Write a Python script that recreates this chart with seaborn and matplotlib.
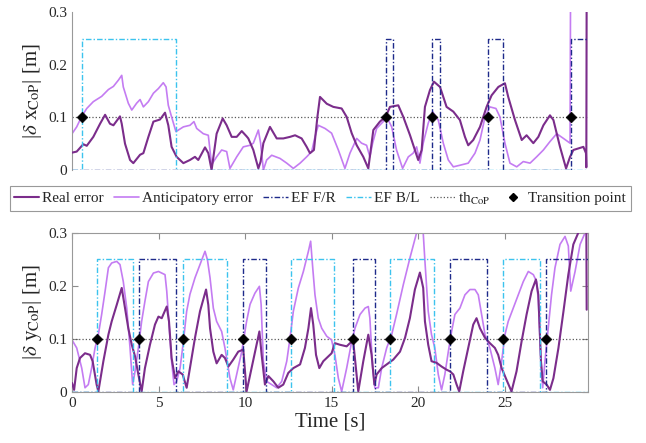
import numpy as np
import matplotlib
matplotlib.use("Agg")
import matplotlib.pyplot as plt
from matplotlib.lines import Line2D
import seaborn as sns

# --- data: (time [s], error [m]) ---
x_real = [(0.0, 0.033), (0.27, 0.035), (0.65, 0.049), (0.85, 0.046), (1.23, 0.063), (1.62, 0.088),
          (1.91, 0.105), (2.19, 0.088), (2.39, 0.085), (2.77, 0.102), (2.87, 0.088), (3.06, 0.050),
          (3.35, 0.019), (3.54, 0.013), (3.93, 0.029), (4.12, 0.032), (4.41, 0.063), (4.70, 0.092),
          (5.08, 0.096), (5.37, 0.109), (5.56, 0.085), (5.75, 0.044), (6.04, 0.025), (6.43, 0.013),
          (6.81, 0.019), (7.10, 0.025), (7.29, 0.019), (7.68, 0.043), (7.87, 0.032), (8.06, 0.0),
          (8.35, 0.069), (8.70, 0.098), (8.93, 0.085), (9.22, 0.063), (9.51, 0.063), (9.80, 0.074),
          (10.08, 0.064), (10.18, 0.060), (10.47, 0.038), (10.76, 0.003), (10.89, 0.016), (11.05, 0.051),
          (11.43, 0.082), (11.82, 0.060), (12.20, 0.060), (12.59, 0.063), (12.88, 0.066), (13.26, 0.060),
          (13.55, 0.044), (13.74, 0.032), (13.97, 0.038), (14.17, 0.101), (14.32, 0.139), (14.71, 0.126),
          (15.09, 0.120), (15.57, 0.117), (15.86, 0.101), (16.15, 0.070), (16.44, 0.047), (16.82, 0.025),
          (17.11, 0.003), (17.40, 0.076), (17.78, 0.092), (18.11, 0.101), (18.36, 0.120), (18.84, 0.123),
          (19.13, 0.101), (19.52, 0.066), (19.80, 0.038), (19.99, 0.019), (20.19, 0.038), (20.38, 0.120),
          (20.67, 0.152), (20.90, 0.168), (21.25, 0.158), (21.63, 0.120), (22.02, 0.111), (22.40, 0.095),
          (22.69, 0.063), (22.88, 0.047), (23.17, 0.057), (23.56, 0.082), (23.94, 0.120), (24.23, 0.142),
          (24.62, 0.158), (25.00, 0.165), (25.19, 0.139), (25.58, 0.095), (25.97, 0.057), (26.25, 0.066),
          (26.64, 0.051), (26.93, 0.063), (27.22, 0.085), (27.60, 0.104), (27.80, 0.095), (28.18, 0.044),
          (28.53, 0.003), (28.76, 0.025), (28.95, 0.038), (29.24, 0.041), (29.53, 0.044), (29.68, 0.032),
          (29.70, 0.005), (29.72, 0.35)]

x_antic = [(0.0, 0.069), (0.27, 0.082), (0.56, 0.102), (0.85, 0.117), (1.23, 0.130), (1.71, 0.140),
           (2.10, 0.153), (2.39, 0.159), (2.68, 0.171), (2.87, 0.180), (2.96, 0.158), (3.25, 0.127),
           (3.45, 0.114), (3.73, 0.127), (3.93, 0.134), (4.12, 0.120), (4.41, 0.130), (4.70, 0.146),
           (4.99, 0.155), (5.27, 0.166), (5.43, 0.158), (5.56, 0.123), (5.75, 0.101), (6.00, 0.073),
           (6.43, 0.082), (6.81, 0.085), (7.04, 0.092), (7.20, 0.079), (7.58, 0.069), (7.87, 0.066),
           (8.06, 0.010), (8.35, 0.025), (8.64, 0.038), (8.93, 0.035), (9.12, 0.003), (9.51, 0.025),
           (9.89, 0.044), (10.28, 0.047), (10.47, 0.051), (10.76, 0.076), (10.89, 0.051), (11.05, 0.0),
           (11.24, 0.019), (11.53, 0.028), (12.01, 0.022), (12.40, 0.013), (12.78, 0.003), (13.17, 0.013),
           (13.55, 0.025), (13.84, 0.035), (14.03, 0.063), (14.22, 0.085), (14.61, 0.079), (14.99, 0.070),
           (15.38, 0.038), (15.76, 0.003), (16.05, 0.032), (16.44, 0.060), (16.72, 0.051), (17.01, 0.047),
           (17.20, 0.025), (17.36, 0.051), (17.59, 0.079), (17.97, 0.092), (18.17, 0.101), (18.46, 0.082),
           (18.74, 0.038), (19.09, 0.003), (19.42, 0.025), (19.70, 0.032), (19.90, 0.044), (20.09, 0.013),
           (20.28, 0.051), (20.57, 0.089), (20.82, 0.111), (21.15, 0.095), (21.44, 0.051), (21.73, 0.019),
           (22.02, 0.006), (22.40, 0.009), (22.88, 0.013), (23.27, 0.032), (23.56, 0.057), (23.85, 0.101),
           (24.13, 0.120), (24.48, 0.117), (24.71, 0.101), (25.00, 0.051), (25.29, 0.013), (25.68, 0.006),
           (26.06, 0.016), (26.45, 0.013), (26.83, 0.025), (27.22, 0.038), (27.60, 0.054), (27.99, 0.069),
           (28.38, 0.060), (28.76, 0.051), (28.79, 0.35)]

y_real = [(0.0, 0.017), (0.12, 0.004), (0.27, 0.045), (0.46, 0.064), (0.75, 0.073), (1.04, 0.070),
          (1.19, 0.058), (1.42, 0.014), (1.52, 0.001), (1.81, 0.058), (2.10, 0.108), (2.29, 0.133),
          (2.58, 0.164), (2.87, 0.196), (3.06, 0.158), (3.25, 0.120), (3.45, 0.089), (3.64, 0.067),
          (3.83, 0.033), (4.02, 0.001), (4.21, 0.045), (4.50, 0.089), (4.79, 0.127), (4.99, 0.142),
          (5.18, 0.139), (5.47, 0.161), (5.60, 0.133), (5.75, 0.064), (5.95, 0.026), (6.14, 0.039),
          (6.39, 0.033), (6.62, 0.008), (6.81, 0.045), (7.10, 0.102), (7.39, 0.152), (7.74, 0.193),
          (7.87, 0.164), (7.97, 0.120), (8.16, 0.076), (8.35, 0.054), (8.64, 0.070), (8.83, 0.064),
          (9.03, 0.048), (9.31, 0.061), (9.60, 0.076), (9.89, 0.080), (10.08, 0.001), (10.37, 0.045),
          (10.66, 0.089), (10.82, 0.114), (10.95, 0.070), (11.14, 0.014), (11.34, 0.030), (11.63, 0.020),
          (11.91, 0.008), (12.20, 0.014), (12.49, 0.036), (12.78, 0.045), (13.17, 0.052), (13.45, 0.083),
          (13.65, 0.120), (13.80, 0.158), (13.93, 0.127), (14.09, 0.070), (14.28, 0.045), (14.51, 0.058),
          (14.70, 0.064), (14.99, 0.073), (15.18, 0.092), (15.47, 0.089), (15.86, 0.086), (16.05, 0.092),
          (16.24, 0.095), (16.53, 0.001), (16.82, 0.058), (17.11, 0.108), (17.30, 0.070), (17.46, 0.014),
          (17.59, 0.033), (17.88, 0.045), (18.17, 0.052), (18.55, 0.061), (18.94, 0.076), (19.23, 0.102),
          (19.51, 0.139), (19.80, 0.193), (20.09, 0.225), (20.28, 0.196), (20.38, 0.133), (20.57, 0.089),
          (20.76, 0.058), (21.05, 0.055), (21.34, 0.048), (21.63, 0.042), (21.82, 0.039), (22.02, 0.033),
          (22.21, 0.014), (22.36, 0.001), (22.59, 0.039), (22.88, 0.083), (23.17, 0.127), (23.36, 0.139),
          (23.56, 0.120), (23.85, 0.102), (24.13, 0.092), (24.42, 0.083), (24.61, 0.070), (24.81, 0.045),
          (25.09, 0.023), (25.38, 0.001), (25.67, 0.039), (25.96, 0.095), (26.25, 0.146), (26.54, 0.190),
          (26.79, 0.212), (26.93, 0.183), (27.08, 0.058), (27.18, 0.020), (27.41, 0.014), (27.60, 0.004),
          (27.80, 0.026), (28.09, 0.083), (28.38, 0.152), (28.66, 0.221), (28.95, 0.278), (29.24, 0.300),
          (29.50, 0.32), (29.70, 0.32), (29.72, 0.155)]

y_antic = [(0.0, 0.098), (0.27, 0.083), (0.56, 0.045), (0.75, 0.008), (0.94, 0.014), (1.13, 0.045),
           (1.33, 0.083), (1.52, 0.108), (1.71, 0.146), (1.91, 0.190), (2.10, 0.234), (2.29, 0.243),
           (2.58, 0.246), (2.77, 0.240), (2.96, 0.208), (3.16, 0.158), (3.35, 0.083), (3.50, 0.014),
           (3.64, 0.039), (3.83, 0.083), (4.02, 0.133), (4.21, 0.171), (4.41, 0.208), (4.70, 0.224),
           (4.99, 0.227), (5.37, 0.221), (5.47, 0.190), (5.62, 0.120), (5.75, 0.058), (5.89, 0.014),
           (6.04, 0.020), (6.24, 0.045), (6.43, 0.095), (6.62, 0.152), (6.81, 0.184), (7.10, 0.215),
           (7.39, 0.240), (7.68, 0.265), (7.82, 0.249), (7.97, 0.215), (8.16, 0.158), (8.35, 0.133),
           (8.64, 0.114), (8.83, 0.083), (9.12, 0.026), (9.31, 0.004), (9.51, 0.033), (9.80, 0.076),
           (10.08, 0.133), (10.28, 0.165), (10.56, 0.186), (10.82, 0.199), (10.92, 0.165), (11.05, 0.058),
           (11.24, 0.020), (11.53, 0.014), (11.82, 0.008), (12.11, 0.020), (12.40, 0.058), (12.59, 0.102),
           (12.78, 0.152), (13.07, 0.196), (13.36, 0.227), (13.65, 0.265), (13.78, 0.284), (13.90, 0.234),
           (14.03, 0.183), (14.22, 0.139), (14.42, 0.120), (14.71, 0.105), (14.99, 0.098), (15.18, 0.070),
           (15.38, 0.026), (15.57, 0.001), (15.86, 0.045), (16.15, 0.095), (16.34, 0.120), (16.63, 0.146),
           (16.92, 0.158), (17.11, 0.161), (17.20, 0.139), (17.36, 0.045), (17.49, 0.008), (17.69, 0.008),
           (17.88, 0.045), (18.17, 0.083), (18.46, 0.108), (18.74, 0.146), (19.13, 0.202), (19.51, 0.252),
           (19.90, 0.300), (20.09, 0.32), (20.28, 0.30), (20.38, 0.246), (20.57, 0.152), (20.76, 0.108),
           (20.95, 0.083), (21.15, 0.033), (21.34, 0.004), (21.53, 0.033), (21.73, 0.076), (21.92, 0.114),
           (22.11, 0.146), (22.40, 0.158), (22.69, 0.183), (22.98, 0.193), (23.27, 0.193), (23.46, 0.183),
           (23.65, 0.146), (23.85, 0.108), (24.13, 0.083), (24.42, 0.045), (24.61, 0.014), (24.81, 0.058),
           (25.00, 0.108), (25.19, 0.133), (25.48, 0.158), (25.77, 0.183), (26.06, 0.208), (26.35, 0.227),
           (26.64, 0.221), (26.83, 0.208), (26.93, 0.171), (27.06, 0.070), (27.18, 0.008), (27.31, 0.058),
           (27.50, 0.120), (27.69, 0.183), (27.89, 0.234), (28.18, 0.278), (28.47, 0.293), (28.66, 0.275),
           (28.80, 0.190), (29.05, 0.227), (29.34, 0.278), (29.63, 0.300), (29.77, 0.32)]

# active windows of the error flags (start, end) [s]
x_ef_fr = [(18.11, 18.55), (20.80, 21.25), (24.00, 24.87), (28.79, 30.0)]
x_ef_bl = [(0.56, 5.99)]
y_ef_fr = [(3.89, 6.00), (9.89, 11.18), (16.20, 17.49), (21.82, 23.98), (27.37, 30.0)]
y_ef_bl = [(1.43, 3.54), (6.39, 8.93), (12.63, 15.13), (18.36, 20.92), (24.90, 27.02)]

x_transitions = [0.56, 18.11, 20.80, 24.00, 28.79]
y_transitions = [1.43, 3.89, 6.39, 9.89, 12.63, 16.20, 18.36, 21.82, 24.90, 27.37]

ef_level = 0.25
th_cop = 0.1
t_max = 29.77

c_real = '#7B2D8B'
c_antic = '#C47CF2'
c_fr = '#1E2A8A'
c_bl = '#3CC3EE'


def ef_signal(windows):
    ts, vs = [0.0], [0.0]
    for s, e in windows:
        ts += [s, s, e, e]
        vs += [0.0, ef_level, ef_level, 0.0]
    ts.append(30.0)
    vs.append(0.0)
    return ts, vs


sns.set_style('white')
plt.rcParams['font.family'] = ['Liberation Serif', 'DejaVu Serif']
plt.rcParams['mathtext.fontset'] = 'stix'

fig = plt.figure(figsize=(6.46, 4.43), dpi=100)
ax1 = fig.add_axes([0.1115, 0.6163, 0.798, 0.356])
ax2 = fig.add_axes([0.1115, 0.1151, 0.798, 0.3596])

panels = [
    (ax1, x_real, x_antic, x_ef_fr, x_ef_bl, x_transitions, r'|$\delta$ x$_{\mathrm{CoP}}$| [m]'),
    (ax2, y_real, y_antic, y_ef_fr, y_ef_bl, y_transitions, r'|$\delta$ y$_{\mathrm{CoP}}$| [m]'),
]
dashdot = (0, (4, 1.5, 1, 1.5))

for ax, real, antic, ef_fr, ef_bl, trans, ylab in panels:
    ax.axhline(th_cop, color='0.35', ls=':', lw=0.9, zorder=1)
    t, v = np.array(real).T
    sns.lineplot(x=t, y=v, ax=ax, color=c_real, lw=1.5, sort=False, estimator=None, zorder=3)
    t, v = np.array(antic).T
    sns.lineplot(x=t, y=v, ax=ax, color=c_antic, lw=1.2, sort=False, estimator=None, zorder=2)
    ts, vs = ef_signal(ef_fr)
    ax.plot(ts, vs, color=c_fr, lw=1.0, ls=dashdot, zorder=4)
    ts, vs = ef_signal(ef_bl)
    ax.plot(ts, vs, color=c_bl, lw=1.0, ls=dashdot, zorder=4)
    sns.scatterplot(x=trans, y=[th_cop] * len(trans), ax=ax, marker='D', color='black',
                    s=30, edgecolor='black', zorder=6)
    ax.set_xlim(0, t_max)
    ax.set_ylim(0, 0.3)
    ax.set_yticks([0, 0.1, 0.2, 0.3])
    ax.set_yticklabels(['0', '0.1', '0.2', '0.3'])
    ax.set_ylabel(ylab, fontsize=15, labelpad=3)
    ax.tick_params(direction='in', length=4, color='0.55', labelsize=11, labelcolor='0.15')
    for sp in ax.spines.values():
        sp.set_color('0.6')
        sp.set_linewidth(0.8)

# top panel: only the left axis line
for side in ['top', 'right', 'bottom']:
    ax1.spines[side].set_visible(False)
ax1.set_xticks([])

ax2.set_xticks([0, 5, 10, 15, 20, 25])
ax2.tick_params(top=True, right=True, bottom=True, left=True)
ax2.set_xlabel('Time [s]', fontsize=15, labelpad=2)

handles = [
    Line2D([], [], color=c_real, lw=1.5),
    Line2D([], [], color=c_antic, lw=1.2),
    Line2D([], [], color=c_fr, lw=1.0, ls=dashdot),
    Line2D([], [], color=c_bl, lw=1.0, ls=dashdot),
    Line2D([], [], color='0.35', lw=0.9, ls=':'),
    Line2D([], [], color='black', ls='none', marker='D', markersize=4),
]
labels = ['Real error', 'Anticipatory error', 'EF F/R', 'EF B/L', r'th$_{\mathrm{CoP}}$', 'Transition point']
leg = fig.legend(handles, labels, loc='center', bbox_to_anchor=(0.003, 0.517, 0.985, 0.07),
                 mode='expand', ncol=6, fontsize=11, frameon=True, fancybox=False,
                 handlelength=1.6, handletextpad=0.2, columnspacing=0.4, borderpad=0.3)
leg.get_frame().set_edgecolor('0.5')
leg.get_frame().set_linewidth(0.8)

fig.savefig('out.png', dpi=100)
